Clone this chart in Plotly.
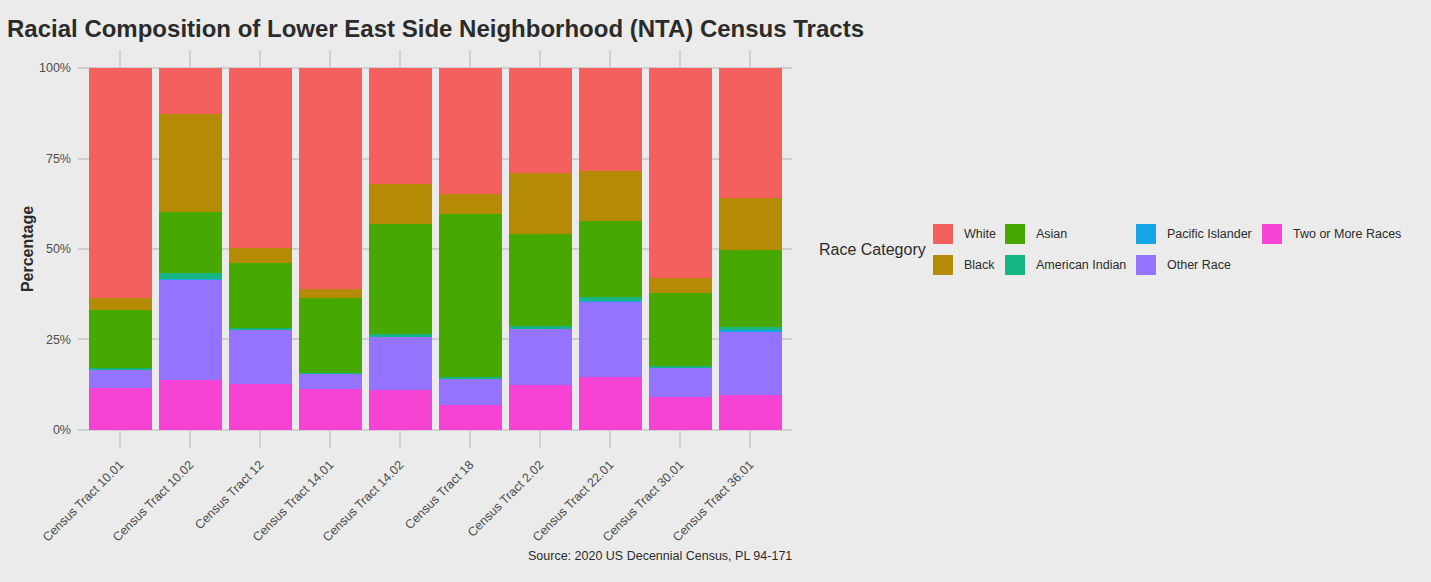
import plotly.graph_objects as go

tracts = ["Census Tract 10.01", "Census Tract 10.02", "Census Tract 12", "Census Tract 14.01",
          "Census Tract 14.02", "Census Tract 18", "Census Tract 2.02", "Census Tract 22.01",
          "Census Tract 30.01", "Census Tract 36.01"]

# percentages, stacked bottom -> top
two_or_more = [11.7, 13.9, 12.8, 11.3, 11.1, 6.9, 12.4, 14.5, 9.1, 9.7]
other_race = [4.9, 27.6, 14.9, 4.3, 14.6, 7.2, 15.5, 21.0, 8.1, 17.6]
pacific_islander = [0.1, 0.2, 0.1, 0.0, 0.1, 0.0, 0.1, 0.2, 0.1, 0.3]
american_indian = [0.5, 1.7, 0.5, 0.2, 0.8, 0.4, 0.8, 0.9, 0.5, 0.9]
asian = [15.9, 16.8, 17.8, 20.7, 30.4, 45.3, 25.4, 21.1, 20.0, 21.3]
black = [3.4, 27.1, 4.3, 2.4, 11.0, 5.5, 16.8, 13.8, 4.3, 14.4]
white = [63.5, 12.7, 49.6, 61.1, 32.0, 34.7, 29.0, 28.5, 57.9, 35.8]

y_ticks = [0, 25, 50, 75, 100]
y_tick_labels = ["0%", "25%", "50%", "75%", "100%"]

series = [
    ("Two or More Races", two_or_more, "#F743D4"),
    ("Other Race", other_race, "#9473FF"),
    ("Pacific Islander", pacific_islander, "#16A6E6"),
    ("American Indian", american_indian, "#17B585"),
    ("Asian", asian, "#47A802"),
    ("Black", black, "#B58A05"),
    ("White", white, "#F4605D"),
]

W, H = 1431, 582
ML, MR, MT, MB = 78, 639, 50, 134
PW, PH = W - ML - MR, H - MT - MB


def px(x):
    return (x - ML) / PW


def py(y):
    return (H - MB - y) / PH


BG = "#EBEBEB"
GRID = "#CFCFCF"
FONT = "Liberation Sans, Arial, Helvetica, sans-serif"

fig = go.Figure()
for name, vals, color in series:
    fig.add_trace(go.Bar(
        x=tracts, y=vals, name=name, marker=dict(color=color, line=dict(width=0)),
        showlegend=False,
    ))

fig.update_layout(
    width=W, height=H,
    margin=dict(l=ML, r=MR, t=MT, b=MB, autoexpand=False),
    paper_bgcolor=BG, plot_bgcolor=BG,
    barmode="stack", bargap=0.1,
    font=dict(family=FONT, size=12.5, color="#4D4D4D"),
    title=dict(
        text="<b>Racial Composition of Lower East Side Neighborhood (NTA) Census Tracts</b>",
        x=7 / W, xref="container", xanchor="left",
        y=1 - 29 / H, yref="container", yanchor="middle",
        font=dict(family=FONT, size=24, color="#2B2B2B"),
    ),
    xaxis=dict(
        range=[-0.6, 9.6], showgrid=True, gridcolor=GRID, gridwidth=1.5,
        ticks="", tickangle=-45, showline=False, zeroline=False,
        tickfont=dict(size=12.5, color="#4D4D4D"), ticklabelstandoff=6,
        automargin=False,
    ),
    yaxis=dict(
        range=[-5, 105], tickvals=y_ticks, ticktext=y_tick_labels,
        showgrid=True, gridcolor=GRID, gridwidth=1.5, zeroline=False, showline=False,
        ticks="", ticklabelstandoff=6,
        tickfont=dict(size=12.5, color="#4D4D4D"),
        title=dict(text="<b>Percentage</b>", standoff=1,
                   font=dict(size=16, color="#2B2B2B")),
        automargin=False,
    ),
)

# caption
fig.add_annotation(
    text="Source: 2020 US Decennial Census, PL 94-171",
    xref="paper", yref="paper", x=px(794), y=py(556), xanchor="right", yanchor="middle",
    showarrow=False, font=dict(size=12.5, color="#2B2B2B"),
)

# legend (ggplot-style, 4 columns x 2 rows)
fig.add_annotation(
    text="Race Category", xref="paper", yref="paper", x=px(817), y=py(250),
    xanchor="left", yanchor="middle", showarrow=False,
    font=dict(size=16, color="#2B2B2B"),
)
legend_order = ["White", "Black", "Asian", "American Indian", "Pacific Islander", "Other Race",
                "Two or More Races"]
col_x = [933, 1005, 1136, 1262]
row_y = [234, 265]
color_of = {n: c for n, _, c in series}
for i, name in enumerate(legend_order):
    cx = col_x[i // 2]
    cy = row_y[i % 2]
    fig.add_shape(
        type="rect", xref="paper", yref="paper",
        x0=px(cx), x1=px(cx + 20), y0=py(cy + 10), y1=py(cy - 10),
        fillcolor=color_of[name], line=dict(width=0),
    )
    fig.add_annotation(
        text=name, xref="paper", yref="paper", x=px(cx + 29), y=py(cy),
        xanchor="left", yanchor="middle", showarrow=False,
        font=dict(size=12.5, color="#2B2B2B"),
    )

fig.write_html("out.html")
